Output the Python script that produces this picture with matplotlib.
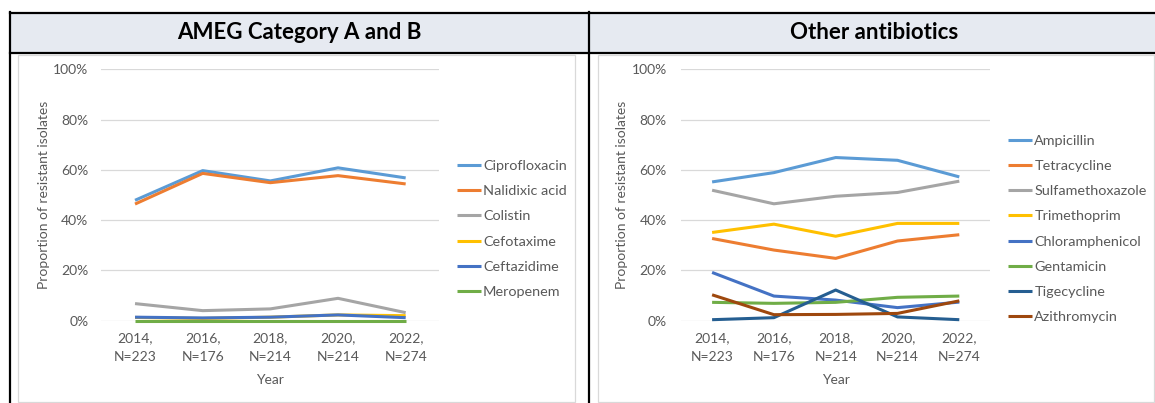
import matplotlib
matplotlib.use('Agg')
import matplotlib.pyplot as plt
from matplotlib.patches import Rectangle
from matplotlib.lines import Line2D

plt.rcParams['font.family'] = ['Lato', 'DejaVu Sans']

# Survey years with number of isolates
years = ['2014,\nN=223', '2016,\nN=176', '2018,\nN=214', '2020,\nN=214', '2022,\nN=274']

# AMEG category A and B (% resistant)
ciprofloxacin = [47.9, 59.7, 55.6, 60.8, 56.8]
nalidixic_acid = [46.4, 58.6, 54.9, 57.7, 54.4]
colistin = [6.8, 4.0, 4.7, 8.9, 3.2]
cefotaxime = [1.3, 0.9, 1.4, 2.3, 2.0]
ceftazidime = [1.4, 1.1, 1.4, 2.3, 1.2]
meropenem = [0.0, 0.0, 0.0, 0.0, 0.0]

# Other antibiotics (% resistant)
ampicillin = [55.2, 58.9, 64.9, 63.8, 57.2]
tetracycline = [32.7, 28.1, 24.8, 31.7, 34.2]
sulfamethoxazole = [51.9, 46.5, 49.5, 51.0, 55.5]
trimethoprim = [35.1, 38.4, 33.6, 38.7, 38.7]
chloramphenicol = [19.2, 9.8, 8.2, 5.2, 7.4]
gentamicin = [7.3, 6.9, 7.3, 9.3, 9.8]
tigecycline = [0.4, 1.2, 12.2, 1.5, 0.4]
azithromycin = [10.3, 2.4, 2.5, 2.9, 7.9]

W, H = 1155, 403
fig = plt.figure(figsize=(W / 100, H / 100), dpi=100)
fig.patch.set_facecolor('white')


def px(x, y):
    # pixel position (from top-left) -> figure fraction
    return x / W, 1 - y / H


def box(x0, y0, x1, y1, **kw):
    (fx0, fy1), (fx1, fy0) = px(x0, y0), px(x1, y1)
    fig.add_artist(Rectangle((fx0, fy0), fx1 - fx0, fy1 - fy0,
                             transform=fig.transFigure, **kw))


def hline(x0, x1, y, **kw):
    fig.add_artist(Line2D([x0 / W, x1 / W], [1 - y / H, 1 - y / H],
                          transform=fig.transFigure, **kw))


def vline(x, y0, y1, **kw):
    fig.add_artist(Line2D([x / W, x / W], [1 - y0 / H, 1 - y1 / H],
                          transform=fig.transFigure, **kw))


# table header band and borders
box(10, 13, W + 2, 52.5, facecolor='#E6EAF1', edgecolor='none')
hline(9.5, W + 2, 13, color='black', lw=1.6)
hline(9.5, W + 2, 52.5, color='black', lw=1.6)
vline(10.2, 12.2, H + 2, color='black', lw=1.6)
vline(589.2, 12.2, H + 2, color='black', lw=1.6)

# light chart frames
box(18, 54.5, 574.5, 401.5, facecolor='none', edgecolor='#D9D9D9', lw=0.9)
box(597.5, 54.5, 1153.5, 401.5, facecolor='none', edgecolor='#D9D9D9', lw=0.9)

fig.text(299.5 / W, 1 - 32.5 / H, 'AMEG Category A and B', ha='center', va='center',
         fontsize=16, fontweight='bold', color='black')
fig.text(874 / W, 1 - 32.5 / H, 'Other antibiotics', ha='center', va='center',
         fontsize=16, fontweight='bold', color='black')

grey_txt = '#595959'
fs = 10
leg_fs = 10.4


def make_axes(x0, x1, ypad, ylab_x):
    left, top = px(x0, 69.3)
    right, bottom = px(x1, 320.7)
    ax = fig.add_axes([left, bottom, right - left, top - bottom])
    ax.set_xlim(-0.5, 4.5)
    ax.set_ylim(0, 1)
    ax.set_yticks([0, 0.2, 0.4, 0.6, 0.8, 1.0])
    ax.set_yticklabels(['0%', '20%', '40%', '60%', '80%', '100%'])
    ax.set_xticks(range(len(years)))
    ax.set_xticklabels(years, linespacing=1.65)
    ax.grid(axis='y', color='#D9D9D9', lw=0.9)
    ax.set_axisbelow(True)
    for s in ax.spines.values():
        s.set_visible(False)
    ax.tick_params(axis='both', length=0, labelsize=fs, labelcolor=grey_txt)
    ax.tick_params(axis='y', pad=ypad)
    ax.tick_params(axis='x', pad=8.5)
    ax.set_xlabel('Year', fontsize=fs, color=grey_txt)
    ax.xaxis.set_label_coords(0.5, -(379.5 - 320.7) / 251.4)
    ax.xaxis.label.set_va('center')
    ax.set_ylabel('Proportion of resistant isolates', fontsize=fs, color=grey_txt)
    ax.yaxis.set_label_coords(-(x0 - ylab_x) / (x1 - x0), 0.5)
    ax.yaxis.label.set_va('center')
    return ax


def draw(ax, series, legend_x):
    for name, vals, color in series:
        ax.plot(range(len(years)), [v / 100 for v in vals], color=color, lw=2.2,
                label=name, clip_on=False, solid_capstyle='butt')
    ax.legend(loc='center left', bbox_to_anchor=px(legend_x, 229),
              bbox_transform=fig.transFigure, frameon=False, fontsize=leg_fs,
              labelcolor=grey_txt, handlelength=1.66, handletextpad=0.14,
              labelspacing=0.9, borderpad=0, borderaxespad=0)


ax1 = make_axes(101.2, 439.5, 9.2, 44)
draw(ax1, [
    ('Ciprofloxacin', ciprofloxacin, '#5B9BD5'),
    ('Nalidixic acid', nalidixic_acid, '#ED7D31'),
    ('Colistin', colistin, '#A5A5A5'),
    ('Cefotaxime', cefotaxime, '#FFC000'),
    ('Ceftazidime', ceftazidime, '#4472C4'),
    ('Meropenem', meropenem, '#70AD47'),
], 457)

ax2 = make_axes(681.2, 990.2, 10.4, 622.4)
draw(ax2, [
    ('Ampicillin', ampicillin, '#5B9BD5'),
    ('Tetracycline', tetracycline, '#ED7D31'),
    ('Sulfamethoxazole', sulfamethoxazole, '#A5A5A5'),
    ('Trimethoprim', trimethoprim, '#FFC000'),
    ('Chloramphenicol', chloramphenicol, '#4472C4'),
    ('Gentamicin', gentamicin, '#70AD47'),
    ('Tigecycline', tigecycline, '#255E91'),
    ('Azithromycin', azithromycin, '#9E480E'),
], 1008.3)

fig.savefig('out.png', dpi=100)
